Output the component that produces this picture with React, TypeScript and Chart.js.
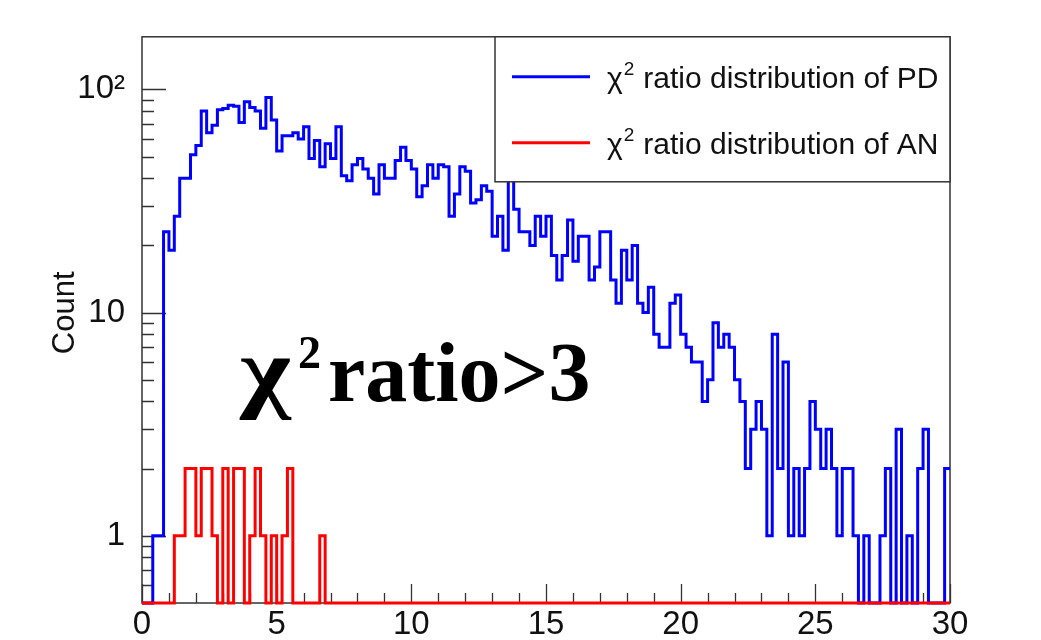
import React, { useEffect, useRef } from 'react';
import { Chart, registerables } from 'chart.js';

Chart.register(...registerables);

// ---- data ----
const binWidth = 0.2;
const xMin = 0;
const xMax = 30;
const yMin = 0.5;
const yMax = 172;

const pdCounts = [
  0, 0, 1, 1, 23, 19, 27, 40, 40, 51,
  56, 80, 64, 69, 81, 82, 85, 84, 71, 88,
  83, 80, 67, 92, 73, 53, 62, 62, 64, 60,
  68, 49, 59, 45, 57, 49, 68, 41, 39, 46,
  49, 44, 40, 34, 46, 40, 40, 48, 55, 48,
  44, 33, 37, 46, 40, 46, 45, 27, 34, 45,
  43, 31, 32, 37, 35, 22, 27, 19, 44, 29,
  23, 23, 20, 27, 22, 27, 18, 14, 18, 26,
  17, 22, 22, 14, 16, 23, 23, 14, 11, 19,
  14, 20, 11, 10, 13, 8, 7, 7, 11, 12,
  8, 7, 6, 6, 4, 5, 9, 7, 8, 7,
  5, 4, 2, 3, 4, 3, 1, 8, 2, 6,
  1, 2, 1, 2, 4, 3, 2, 3, 2, 1,
  2, 2, 1, 0, 1, 0, 0, 1, 2, 0,
  3, 0, 1, 0, 2, 3, 0, 0, 0, 2,
];

const anCounts = [
  0, 0, 0, 0, 0, 0, 1, 1, 2, 2,
  1, 2, 2, 1, 0, 2, 0, 2, 2, 0,
  1, 2, 1, 0, 1, 0, 1, 2, 0, 0,
  0, 0, 0, 1, 0, 0, 0, 0, 0, 0,
  0, 0, 0, 0, 0, 0, 0, 0, 0, 0,
  0, 0, 0, 0, 0, 0, 0, 0, 0, 0,
  0, 0, 0, 0, 0, 0, 0, 0, 0, 0,
  0, 0, 0, 0, 0, 0, 0, 0, 0, 0,
  0, 0, 0, 0, 0, 0, 0, 0, 0, 0,
  0, 0, 0, 0, 0, 0, 0, 0, 0, 0,
  0, 0, 0, 0, 0, 0, 0, 0, 0, 0,
  0, 0, 0, 0, 0, 0, 0, 0, 0, 0,
  0, 0, 0, 0, 0, 0, 0, 0, 0, 0,
  0, 0, 0, 0, 0, 0, 0, 0, 0, 0,
  0, 0, 0, 0, 0, 0, 0, 0, 0, 0,
];

const xTickValues = [0, 5, 10, 15, 20, 25, 30];
const xTickLabels = ['0', '5', '10', '15', '20', '25', '30'];
const yTickValues = [1, 10, 100];
const yTickLabels = ['1', '10', '10\u00B2'];
const yTitle = 'Count';
const seriesNames = ['\u03C7\u00B2 ratio distribution of PD', '\u03C7\u00B2 ratio distribution of AN'];
const legendRest = ['ratio distribution of PD', 'ratio distribution of AN'];
const seriesColors = ['#0000ff', '#ff0000'];
const annotationRest = 'ratio>3';

const SANS = '"Liberation Sans", Arial, Helvetica, sans-serif';
const SERIF = '"Liberation Serif", "Times New Roman", serif';

function toSteps(counts: number[]) {
  const pts = counts.map((c, i) => ({ x: i * binWidth, y: Math.max(c, yMin) }));
  pts.push({ x: counts.length * binWidth, y: Math.max(counts[counts.length - 1], yMin) });
  return pts;
}

const rootPlugin = {
  id: 'rootStyle',
  beforeDatasetsDraw(chart: any) {
    const { ctx, chartArea: ca, scales } = chart;
    const xs = scales.x;
    const ys = scales.y;
    ctx.save();
    ctx.strokeStyle = '#333';
    ctx.lineWidth = 1.5;
    ctx.strokeRect(ca.left, ca.top, ca.right - ca.left, ca.bottom - ca.top);
    ctx.lineWidth = 1.3;
    ctx.beginPath();
    for (let v = xMin; v <= xMax; v += 1) {
      const px = Math.round(xs.getPixelForValue(v)) + 0.5;
      const len = v % 5 === 0 ? 19 : 10;
      ctx.moveTo(px, ca.bottom);
      ctx.lineTo(px, ca.bottom - len);
    }
    for (const d of [0.1, 1, 10, 100]) {
      for (let m = 1; m <= 9; m++) {
        const v = m * d;
        if (v < yMin - 1e-9 || v > yMax) continue;
        const py = Math.round(ys.getPixelForValue(v)) + 0.5;
        const len = m === 1 ? 24 : 12;
        ctx.moveTo(ca.left, py);
        ctx.lineTo(ca.left + len, py);
      }
    }
    ctx.stroke();
    // axis title
    ctx.translate(ca.left - 77, ca.top + 276);
    ctx.rotate(-Math.PI / 2);
    ctx.fillStyle = '#111';
    ctx.font = `31px ${SANS}`;
    ctx.textAlign = 'center';
    ctx.textBaseline = 'middle';
    ctx.fillText(yTitle, 0, 0);
    ctx.restore();
  },
  afterDatasetsDraw(chart: any) {
    const { ctx, chartArea: ca } = chart;
    ctx.save();
    // legend box
    const bx = ca.right - 455;
    const by = ca.top;
    const bw = ca.right - bx;
    const bh = 145;
    ctx.fillStyle = '#ffffff';
    ctx.fillRect(bx, by, bw, bh);
    ctx.strokeStyle = '#333';
    ctx.lineWidth = 1.5;
    ctx.strokeRect(bx, by, bw, bh);
    const rows = [by + 40, by + 106];
    rows.forEach((ry, i) => {
      ctx.strokeStyle = seriesColors[i];
      ctx.lineWidth = 3;
      ctx.beginPath();
      ctx.moveTo(bx + 17, ry);
      ctx.lineTo(bx + 95, ry);
      ctx.stroke();
      ctx.fillStyle = '#111';
      ctx.textBaseline = 'alphabetic';
      ctx.textAlign = 'left';
      let tx = bx + 112;
      const base = ry + 11;
      ctx.font = `30px ${SANS}`;
      ctx.fillText('\u03C7', tx, base);
      tx += ctx.measureText('\u03C7').width + 1;
      ctx.font = `19px ${SANS}`;
      ctx.fillText('2', tx, base - 13);
      tx += ctx.measureText('2').width + 9;
      ctx.font = `30px ${SANS}`;
      ctx.fillText(legendRest[i], tx, base);
    });
    // annotation
    ctx.fillStyle = '#000';
    ctx.textAlign = 'left';
    ctx.textBaseline = 'alphabetic';
    const ax = ca.left + 98;
    const abase = ca.top + 364;
    ctx.save();
    ctx.translate(ax, abase);
    ctx.scale(1.3, 1.08);
    ctx.font = `bold 84px ${SERIF}`;
    ctx.fillText('\u03C7', 0, 0);
    ctx.restore();
    ctx.font = `bold 46px ${SERIF}`;
    ctx.fillText('2', ax + 58, abase - 33);
    ctx.font = `bold 84px ${SERIF}`;
    ctx.fillText(annotationRest, ax + 88, abase);
    ctx.restore();
  },
};

export default function App() {
  const ref = useRef<HTMLCanvasElement | null>(null);
  useEffect(() => {
    if (!ref.current) return;
    const chart = new Chart(ref.current, {
      type: 'line',
      data: {
        datasets: [
          {
            label: seriesNames[0],
            data: toSteps(pdCounts),
            borderColor: seriesColors[0],
            backgroundColor: seriesColors[0],
            borderWidth: 3,
            pointRadius: 0,
            stepped: 'before',
            fill: false,
            order: 2,
            clip: 5,
          },
          {
            label: seriesNames[1],
            data: toSteps(anCounts),
            borderColor: seriesColors[1],
            backgroundColor: seriesColors[1],
            borderWidth: 3,
            pointRadius: 0,
            stepped: 'before',
            fill: false,
            order: 1,
            clip: 5,
          },
        ],
      },
      options: {
        animation: false,
        responsive: true,
        maintainAspectRatio: false,
        devicePixelRatio: 1,
        layout: { padding: { left: 0, top: 35, right: 91, bottom: 0 } },
        plugins: { legend: { display: false }, tooltip: { enabled: false } },
        scales: {
          x: {
            type: 'linear',
            min: xMin,
            max: xMax,
            grid: { display: false, drawTicks: false },
            border: { display: false },
            afterBuildTicks: (s: any) => {
              s.ticks = xTickValues.map((v) => ({ value: v }));
            },
            afterFit: (s: any) => {
              s.height = 37;
            },
            ticks: {
              autoSkip: false,
              maxRotation: 0,
              padding: 2,
              color: '#111',
              font: { family: SANS, size: 33 },
              callback: (_v: any, i: number) => xTickLabels[i],
            },
          },
          y: {
            type: 'logarithmic',
            min: yMin,
            max: yMax,
            grid: { display: false, drawTicks: false },
            border: { display: false },
            afterBuildTicks: (s: any) => {
              s.ticks = yTickValues.map((v) => ({ value: v, major: true }));
            },
            afterFit: (s: any) => {
              s.width = 142;
            },
            ticks: {
              autoSkip: false,
              padding: 17,
              color: '#111',
              font: { family: SANS, size: 33 },
              callback: (_v: any, i: number) => yTickLabels[i],
            },
          },
        },
      },
      plugins: [rootPlugin],
    } as any);
    return () => chart.destroy();
  }, []);
  return (
    <div style={{ position: 'fixed', left: 0, top: 0, width: 1041, height: 640, background: '#fff' }}>
      <canvas ref={ref} />
    </div>
  );
}
